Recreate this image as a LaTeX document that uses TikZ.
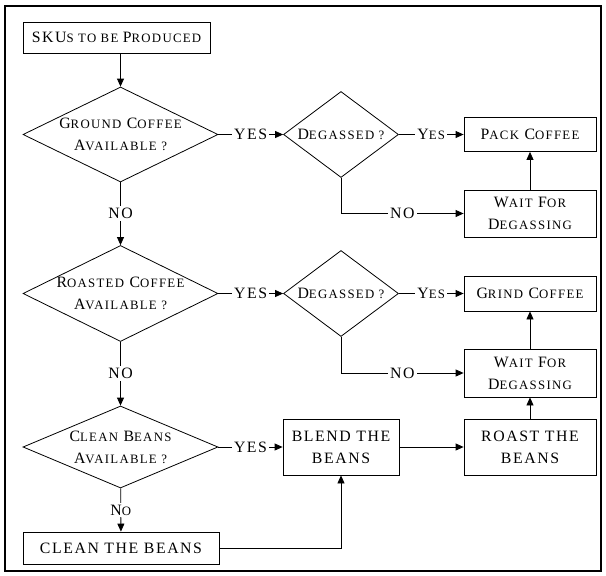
\documentclass[tikz,border=0pt]{standalone}
\usepackage{fontspec}
\setmainfont{Liberation Serif}[LetterSpace=10]
\usetikzlibrary{shapes.geometric,arrows.meta}
\newcommand\smc[1]{{\fontsize{12.8}{22}\selectfont\MakeUppercase{#1}}}
\tikzset{
  box/.style={draw, rectangle, inner sep=0pt, align=center, line width=0.8pt},
  decision/.style={draw, diamond, inner sep=0pt, line width=0.8pt},
  flow/.style={line width=0.8pt, -{Triangle[length=8pt,width=7pt]}},
  lbl/.style={fill=white, inner sep=2pt}
}
\begin{document}
\begin{tikzpicture}[x=1pt, y=-1pt, font=\fontsize{15.8}{22}\selectfont]
  \useasboundingbox (0,0) rectangle (606,576);
  \draw[line width=1.2pt] (5,6) rectangle (601,571);

  \node[box, minimum width=187pt, minimum height=31pt] (sku) at (116.5,37.5) {SKU\smc{s to be }P\smc{roduced}};

  \node[decision, minimum width=195pt, minimum height=95pt,
    label={[align=center]center:G\smc{round} C\smc{offee}\\A\smc{vailable ?}}] (ground) at (120.5,134.5) {};
  \node[decision, minimum width=115pt, minimum height=86pt,
    label={center:D\smc{egassed ?}}] (deg1) at (341,134.5) {};
  \node[box, minimum width=132pt, minimum height=34pt] (pack) at (530,134.5) {P\smc{ack} C\smc{offee}};
  \node[box, minimum width=132pt, minimum height=47pt] (wait1) at (530,213.5) {W\smc{ait} F\smc{or}\\D\smc{egassing}};

  \node[decision, minimum width=195pt, minimum height=96pt,
    label={[align=center]center:R\smc{oasted} C\smc{offee}\\A\smc{vailable ?}}] (roasted) at (120.5,293.5) {};
  \node[decision, minimum width=115pt, minimum height=86pt,
    label={center:D\smc{egassed ?}}] (deg2) at (341,293.5) {};
  \node[box, minimum width=132pt, minimum height=35pt] (grind) at (530,293.5) {G\smc{rind} C\smc{offee}};
  \node[box, minimum width=132pt, minimum height=48pt] (wait2) at (530,373) {W\smc{ait} F\smc{or}\\D\smc{egassing}};

  \node[decision, minimum width=195pt, minimum height=82pt,
    label={[align=center]center:C\smc{lean} B\smc{eans}\\A\smc{vailable ?}}] (clean) at (120.5,447) {};
  \node[box, minimum width=116pt, minimum height=56pt] (blend) at (341,447) {BLEND THE\\BEANS};
  \node[box, minimum width=132pt, minimum height=56pt] (roast) at (530,447) {ROAST THE\\BEANS};
  \node[box, minimum width=196pt, minimum height=32pt] (cleanbox) at (121,548) {CLEAN THE BEANS};

  \draw[flow] (sku.south -| ground.north) -- (ground.north);
  \draw[flow] (ground) -- node[lbl]{YES} (deg1);
  \draw[flow] (deg1) -- node[lbl]{Y\smc{es}} (pack);
  \draw[flow] (deg1.south) |- node[lbl, pos=0.75]{NO} (wait1.west);
  \draw[flow] (wait1) -- (pack);
  \draw[flow] (ground) -- node[lbl]{NO} (roasted);

  \draw[flow] (roasted) -- node[lbl]{YES} (deg2);
  \draw[flow] (deg2) -- node[lbl]{Y\smc{es}} (grind);
  \draw[flow] (deg2.south) |- node[lbl, pos=0.75]{NO} (wait2.west);
  \draw[flow] (wait2) -- (grind);
  \draw[flow] (roasted) -- node[lbl]{NO} (clean);

  \draw[flow] (clean) -- node[lbl]{YES} (blend);
  \draw[flow] (clean) -- node[lbl]{N\smc{o}} (cleanbox);
  \draw[flow] (cleanbox.east) -| (blend.south);
  \draw[flow] (blend) -- (roast);
  \draw[flow] (roast) -- (wait2);
\end{tikzpicture}
\end{document}
